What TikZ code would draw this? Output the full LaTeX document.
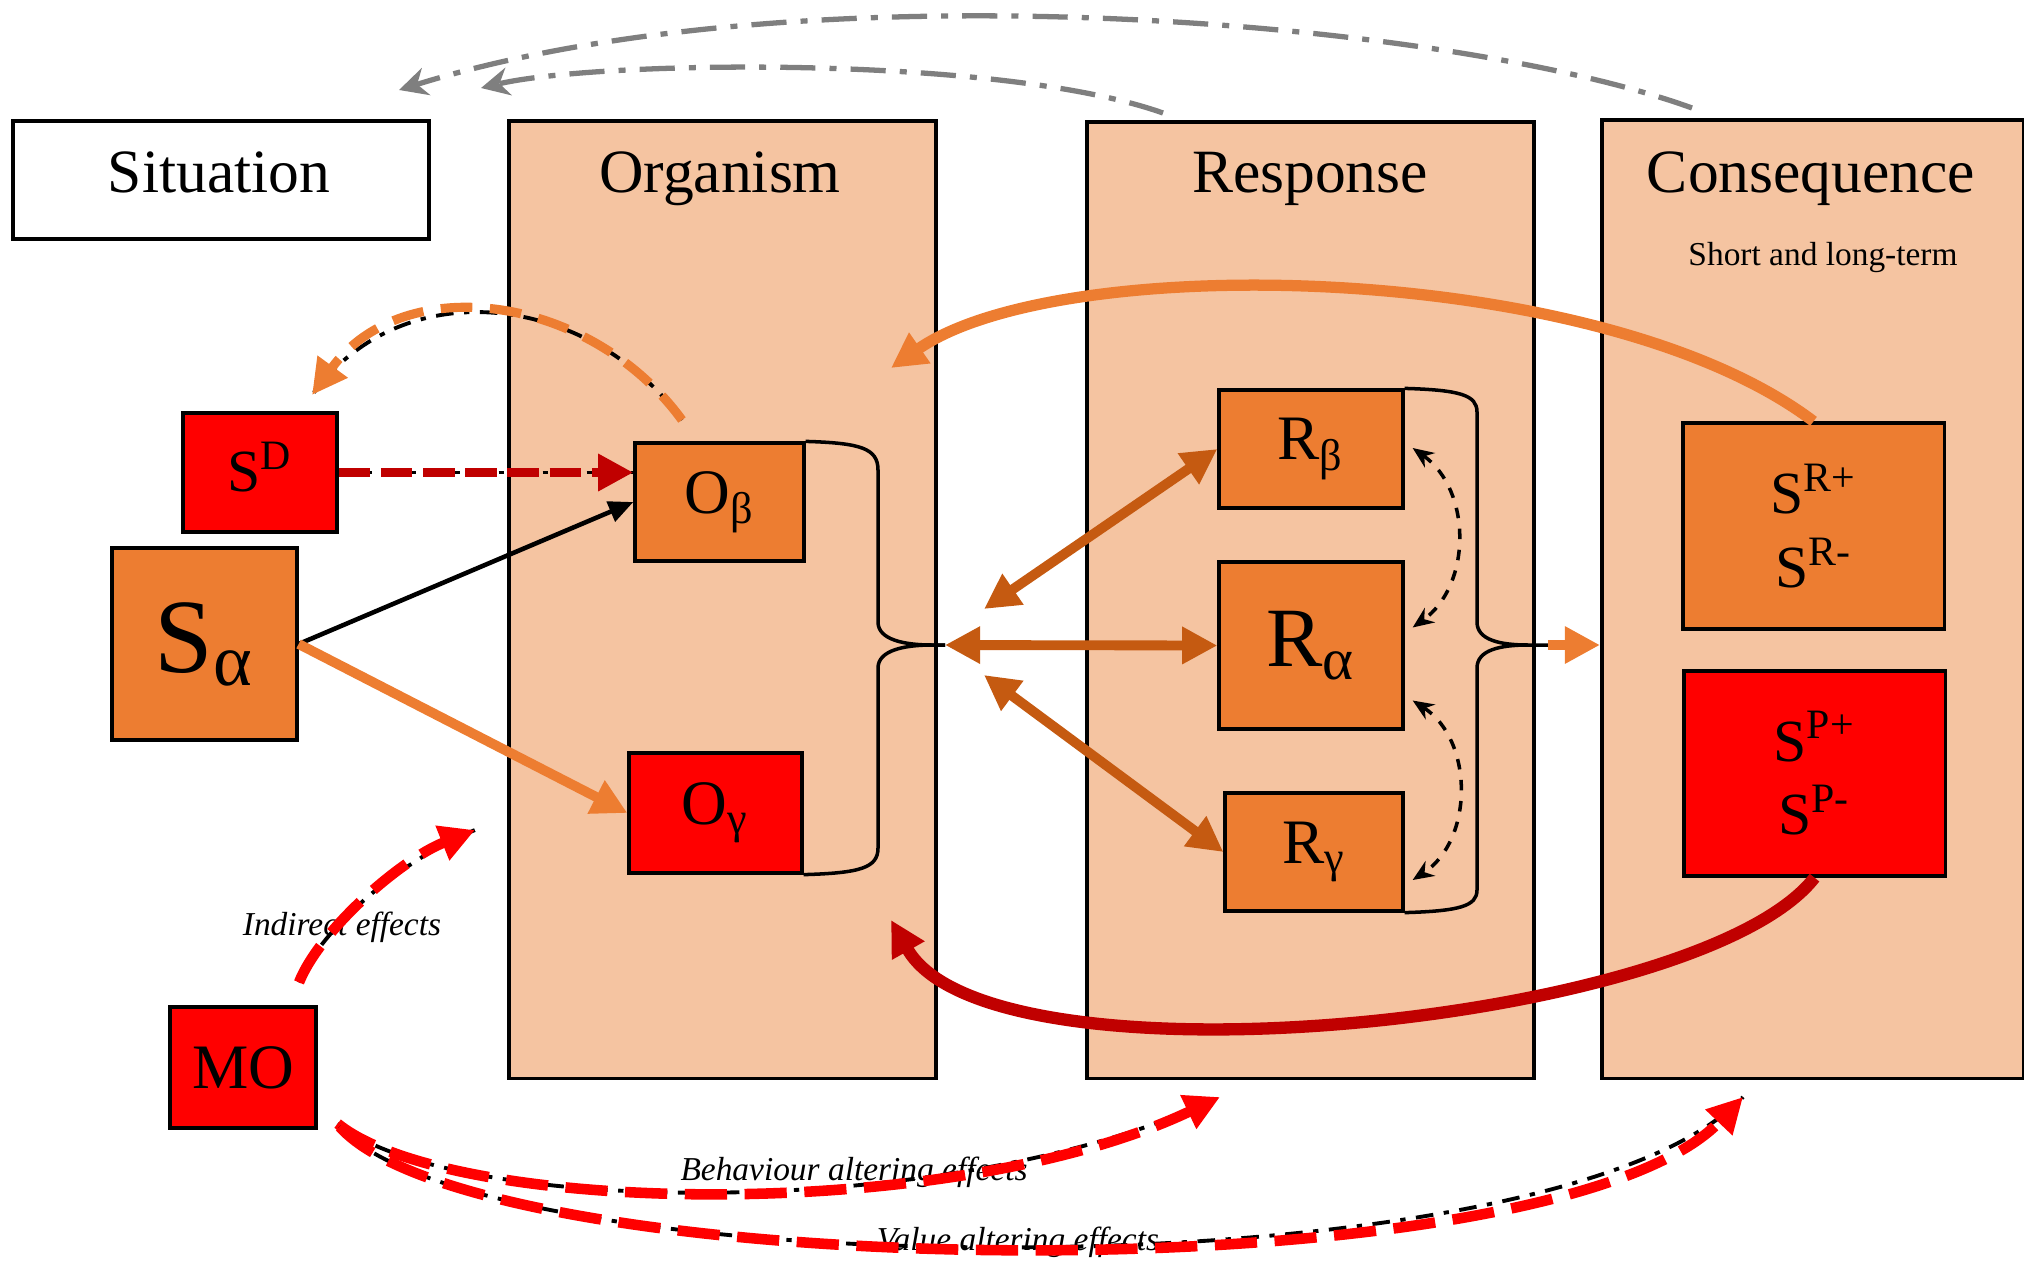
\documentclass[tikz,border=0pt]{standalone}
\usepackage{fontspec}
\setmainfont{Liberation Serif}
\usetikzlibrary{arrows.meta}

\definecolor{peach}{HTML}{F5C4A1}
\definecolor{boxorange}{HTML}{ED7D31}
\definecolor{darkred}{HTML}{C00000}
\definecolor{rust}{HTML}{C55A11}
\definecolor{midgray}{HTML}{7F7F7F}

\begin{document}
\begin{tikzpicture}[x=0.01cm,y=-0.01cm,
	panel/.style={draw=black, line width=1pt, fill=peach, anchor=north west, inner sep=0pt},
	title/.style={anchor=base, font=\fontsize{17.5}{21}\selectfont},
	box/.style={draw=black, line width=0.9pt, inner sep=0pt, align=center, font=\fontsize{18}{21}\selectfont},
	obox/.style={box, fill=boxorange},
	rbox/.style={box, fill=red},
	lbl/.style={font=\fontsize{9.5}{11}\selectfont\itshape},
	bigtip/.style={-{Triangle[width=10pt,length=10pt]}},
	rustarrow/.style={draw=rust, line width=2.8pt, {Triangle[width=10pt,length=10pt]}-{Triangle[width=10pt,length=10pt]}},
	under/.style={draw=black, line width=1.1pt, dash pattern=on 5pt off 3pt on 1.5pt off 3pt},
	reddash/.style={draw=red, line width=3pt, dash pattern=on 12pt off 5pt, bigtip},
	orangedash/.style={draw=boxorange, line width=2.6pt, dash pattern=on 9pt off 5pt, bigtip},
	grayarc/.style={draw=midgray, line width=1.5pt, dash pattern=on 10pt off 4pt on 2pt off 4pt, -{Stealth[width=8pt,length=8pt]}},
	smallarc/.style={draw=black, line width=1pt, dashed, {Stealth[width=5pt,length=6pt]}-{Stealth[width=5pt,length=6pt]}},
	brace/.style={draw=black, line width=1pt}
]

\useasboundingbox (0,0) rectangle (2024,1263);

\node[draw=black, line width=1pt, fill=white, anchor=north west, inner sep=0pt, minimum width=4.16cm, minimum height=1.18cm] (sit) at (11,119) {};
\node[panel, minimum width=4.27cm, minimum height=9.57cm] (org) at (507,119) {};
\node[panel, minimum width=4.47cm, minimum height=9.56cm] (resp) at (1085,120) {};
\node[panel, minimum width=4.22cm, minimum height=9.58cm] (cons) at (1600,118) {};

\node[title] (sittitle) at (219,192) {Situation};
\node[title] (orgtitle) at (720,192) {Organism};
\node[title] (resptitle) at (1310,192) {Response};
\node[title] (constitle) at (1811,192) {Consequence};
\node[anchor=base, font=\fontsize{9.5}{11}\selectfont] (term) at (1823,265) {Short and long-term};

\node[obox, minimum width=1.85cm, minimum height=1.92cm, font=\fontsize{30}{32}\selectfont] (sa) at (204.5,644) {S\textsubscript{α}};
\node[rbox, minimum width=1.54cm, minimum height=1.19cm, font=\fontsize{17}{20}\selectfont] (sd) at (260,472.5) {\raisebox{1.2mm}{S\textsuperscript{D}}};
\node[obox, minimum width=1.69cm, minimum height=1.18cm] (ob) at (719.5,502) {O\textsubscript{β}};
\node[rbox, minimum width=1.73cm, minimum height=1.20cm] (og) at (715.5,813) {O\textsubscript{γ}};
\node[obox, minimum width=1.84cm, minimum height=1.18cm] (rb) at (1311,449) {R\textsubscript{β}};
\node[obox, minimum width=1.84cm, minimum height=1.67cm, font=\fontsize{24}{28}\selectfont] (ra) at (1311,645.5) {R\textsubscript{α}};
\node[obox, minimum width=1.78cm, minimum height=1.18cm] (rg) at (1314,852) {R\textsubscript{γ}};
\node[obox, minimum width=2.61cm, minimum height=2.06cm, font=\fontsize{17}{21}\selectfont] (sr) at (1813.5,526) {S\textsuperscript{R+}\\S\textsuperscript{R-}};
\node[rbox, minimum width=2.61cm, minimum height=2.05cm, font=\fontsize{17}{21}\selectfont] (sp) at (1814.5,773.5) {S\textsuperscript{P+}\\S\textsuperscript{P-}};
\node[rbox, minimum width=1.46cm, minimum height=1.21cm] (mo) at (243,1067.5) {MO};

\coordinate (otip) at (945,645);
\coordinate (rtip) at (1548,645);
\draw[brace] (ob.north east) .. controls (860,443) and (878,448) .. (878,470) -- (878,622)
	.. controls (878,640) and (905,645) .. (932,645) -- (otip);
\draw[brace] (otip) -- (932,645) .. controls (905,645) and (878,650) .. (878,668) -- (878,848)
	.. controls (878,868) and (860,873) .. (og.south east);
\draw[brace] (rb.north east) .. controls (1460,390) and (1477,395) .. (1477,412) -- (1477,622)
	.. controls (1477,640) and (1500,645) .. (1528,645) -- (rtip);
\draw[brace] (1528,645) .. controls (1500,645) and (1477,650) .. (1477,668) -- (1477,890)
	.. controls (1477,906) and (1460,911) .. (rg.south east);
\draw[draw=boxorange, line width=2.6pt, bigtip] (rtip) -- (rtip -| cons.west);

\draw[draw=black, line width=1.3pt, -{Triangle[width=6pt,length=7pt]}] (sa.east) -- (ob.west);
\draw[draw=boxorange, line width=2.8pt, bigtip] (sa.east) -- (og.west);

\draw[under] (sd.east) -- (sd.east -| ob.west);
\draw[draw=darkred, line width=2.8pt, dash pattern=on 9pt off 3pt, bigtip] (sd.east) -- (sd.east -| ob.west);

\coordinate (obtop) at (682,420);
\coordinate (sdtop) at (312,395);
\draw[under] (obtop) .. controls (590,294) and (404,269) .. (sdtop);
\draw[orangedash] (obtop) .. controls (590,294) and (404,269) .. (sdtop);

\coordinate (oup) at (984,609);
\coordinate (odown) at (984,675);
\draw[rustarrow] (otip) -- (ra.west);
\draw[rustarrow] (oup) -- (rb.west);
\draw[rustarrow] (odown) -- (rg.west);

\draw[smallarc] ([shift={(8,-1)}]rb.east) .. controls (1472,490) and (1472,585) .. ([shift={(8,-18)}]ra.east);
\draw[smallarc] ([shift={(8,55)}]ra.east) .. controls (1474,740) and (1474,840) .. ([shift={(8,28)}]rg.east);

\coordinate (orgin1) at (891,368);
\coordinate (orgin2) at (891,920);
\draw[draw=boxorange, line width=3.2pt, bigtip] (sr.north) .. controls (1600,260) and (1060,250) .. (orgin1);
\draw[draw=darkred, line width=3.5pt, bigtip] (sp.south) .. controls (1700,1025) and (990,1095) .. (orgin2);

\coordinate (consup) at (1692,108);
\coordinate (respup) at (1163,113);
\coordinate (sitabove) at (399,90);
\coordinate (sitabove2) at (481,88);
\draw[grayarc] (consup) .. controls (1450,20) and (800,-35) .. (sitabove);
\draw[grayarc] (respup) .. controls (1000,55) and (600,60) .. (sitabove2);

\node[lbl] (indlbl) at (342,927) {Indirect effects};
\node[lbl] (behlbl) at (854,1172) {Behaviour altering effects};
\node[lbl] (vallbl) at (1018,1242) {Value altering effects};

\coordinate (orgind) at (475,830);
\coordinate (respbot) at (1220,1097);
\coordinate (consbot) at (1743,1097);
\draw[under] ([shift={(56,-23)}]mo.north) .. controls (320,930) and (400,860) .. (orgind);
\draw[reddash] ([shift={(56,-23)}]mo.north) .. controls (320,930) and (400,860) .. (orgind);
\draw[under] ([shift={(20,-6)}]mo.south east) .. controls (450,1215) and (950,1225) .. (respbot);
\draw[reddash] ([shift={(20,-6)}]mo.south east) .. controls (450,1215) and (950,1225) .. (respbot);
\draw[under] ([shift={(22,-3)}]mo.south east) .. controls (480,1285) and (1550,1300) .. (consbot);
\draw[reddash] ([shift={(22,-3)}]mo.south east) .. controls (480,1285) and (1550,1300) .. (consbot);

\end{tikzpicture}
\end{document}
